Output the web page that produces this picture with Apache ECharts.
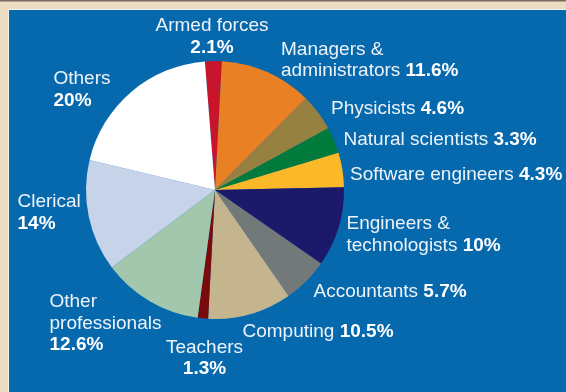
<!DOCTYPE html>
<html>
<head>
<meta charset="utf-8">
<script src="https://cdn.jsdelivr.net/npm/echarts@6/dist/echarts.min.js"></script>
<style>
html,body{margin:0;padding:0;background:#ecdcc2;}
#chart{width:566px;height:392px;}
</style>
</head>
<body>
<div id="chart"></div>
<script>
// ---- data ----
var categories = ['Armed forces', 'Managers & administrators', 'Physicists', 'Natural scientists',
  'Software engineers', 'Engineers & technologists', 'Accountants', 'Computing', 'Teachers',
  'Other professionals', 'Clerical', 'Others'];
var values = [2.1, 11.6, 4.6, 3.3, 4.3, 10, 5.7, 10.5, 1.3, 12.6, 14, 20];
var labelNames = ['Armed forces', 'Managers &\nadministrators', 'Physicists', 'Natural scientists',
  'Software engineers', 'Engineers &\ntechnologists', 'Accountants', 'Computing', 'Teachers',
  'Other\nprofessionals', 'Clerical', 'Others'];
var valueOnNewLine = [true, false, false, false, false, false, false, false, true, true, true, true];

// ---- styling / layout (not data) ----
var colors = ['#c8152b', '#e98024', '#968140', '#017a3b', '#fbb829', '#1d196a', '#737879',
  '#c4b58f', '#7b0a0c', '#a3c7ad', '#c6d3e9', '#ffffff'];
var labelAnchors = [
  {x: 212, y: 37, align: 'center'},
  {x: 281, y: 60.5, align: 'left'},
  {x: 331, y: 108.5, align: 'left'},
  {x: 343.5, y: 140, align: 'left'},
  {x: 350, y: 174.3, align: 'left'},
  {x: 346.5, y: 235, align: 'left'},
  {x: 313.5, y: 292, align: 'left'},
  {x: 242.5, y: 332, align: 'left'},
  {x: 204.5, y: 358.5, align: 'center'},
  {x: 49.5, y: 323.7, align: 'left'},
  {x: 17.5, y: 212.8, align: 'left'},
  {x: 53.5, y: 89.7, align: 'left'}
];

function fmtLabel(i) {
  var lines = labelNames[i].split('\n');
  var last = lines.length - 1;
  var txt = lines.map(function (l, k) {
    return '{n|' + l + ((k === last && !valueOnNewLine[i]) ? ' ' : '') + '}';
  }).join('\n');
  txt += (valueOnNewLine[i] ? '\n' : '') + '{v|' + values[i] + '%}';
  return txt;
}

var chart = echarts.init(document.getElementById('chart'), null, {renderer: 'canvas'});
var FONT = '"Liberation Sans", Arial, sans-serif';
var option = {
  animation: false,
  backgroundColor: '#ecdcc2',
  graphic: [
    {type: 'rect', shape: {x: 0, y: 0, width: 566, height: 1.5}, style: {fill: '#756a5f'}, z: -10},
    {type: 'rect', shape: {x: 8, y: 9, width: 558, height: 383}, style: {fill: '#f6f0e6'}, z: -10},
    {type: 'rect', shape: {x: 9, y: 10, width: 557, height: 382}, style: {fill: '#0668ad'}, z: -9}
  ],
  series: [{
    type: 'pie',
    center: [215, 190],
    radius: [0, 129],
    startAngle: 94.5,
    clockwise: true,
    avoidLabelOverlap: false,
    itemStyle: {borderWidth: 0},
    emphasis: {disabled: true},
    label: {
      show: true,
      position: 'outside',
      formatter: function (p) { return fmtLabel(p.dataIndex); },
      lineHeight: 21.5,
      rich: {
        n: {color: '#eef3f8', fontSize: 19, fontFamily: FONT, fontWeight: 'normal', lineHeight: 21.5},
        v: {color: '#ffffff', fontSize: 19, fontFamily: FONT, fontWeight: 'bold', lineHeight: 21.5}
      }
    },
    labelLine: {show: false},
    labelLayout: function (p) {
      var a = labelAnchors[p.dataIndex];
      return {x: a.x, y: a.y, align: a.align, verticalAlign: 'middle'};
    },
    data: categories.map(function (c, i) {
      return {name: c, value: values[i], itemStyle: {color: colors[i]}};
    })
  }]
};
chart.setOption(option);
</script>
</body>
</html>
